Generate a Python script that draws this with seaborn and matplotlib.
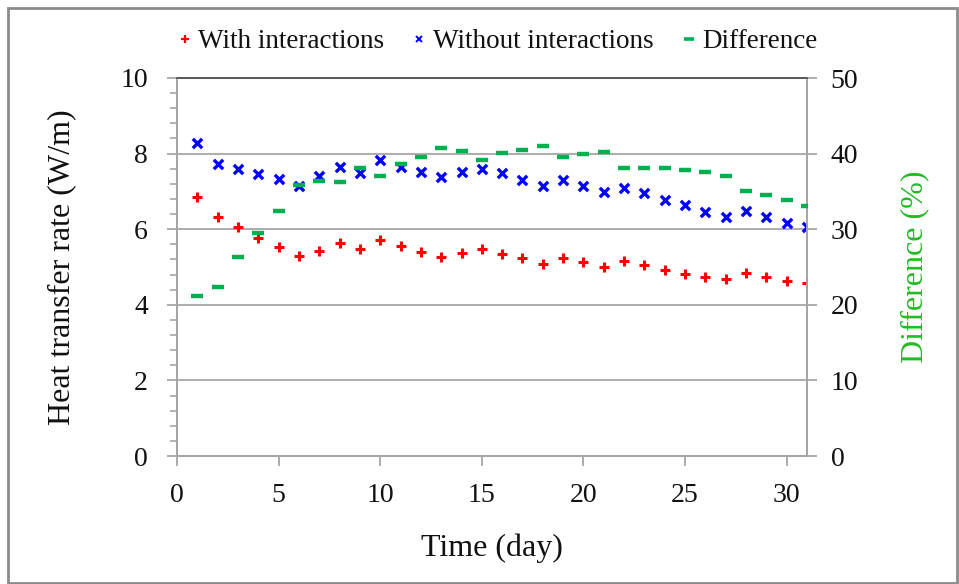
import numpy as np
import pandas as pd
import matplotlib
matplotlib.use("Agg")
import matplotlib.pyplot as plt
from matplotlib.lines import Line2D
from matplotlib.patches import Rectangle
import seaborn as sns

# ---- data ----
days = list(range(1, 32))
with_interactions = [6.84, 6.32, 6.05, 5.76, 5.54, 5.29, 5.43, 5.63, 5.47, 5.71,
                     5.56, 5.40, 5.26, 5.36, 5.48, 5.34, 5.23, 5.09, 5.23, 5.12,
                     4.99, 5.16, 5.05, 4.91, 4.82, 4.74, 4.67, 4.83, 4.74, 4.64, 4.57]
without_interactions = [8.27, 7.72, 7.59, 7.47, 7.32, 7.15, 7.41, 7.65, 7.48, 7.82,
                        7.65, 7.52, 7.39, 7.50, 7.59, 7.48, 7.29, 7.15, 7.29, 7.15,
                        6.98, 7.09, 6.95, 6.77, 6.63, 6.46, 6.32, 6.47, 6.32, 6.16, 6.05]
difference = [21.2, 22.4, 26.3, 29.5, 32.4, 35.8, 36.4, 36.2, 38.1, 37.1,
              38.6, 39.6, 40.8, 40.3, 39.2, 40.1, 40.5, 41.0, 39.6, 39.9,
              40.2, 38.1, 38.1, 38.1, 37.8, 37.6, 37.1, 35.1, 34.5, 33.8, 33.1]
x_ticks = [0, 5, 10, 15, 20, 25, 30]
left_ticks = [0, 2, 4, 6, 8, 10]
right_ticks = [0, 10, 20, 30, 40, 50]
labels = ["With interactions", "Without interactions", "Difference"]

df = pd.DataFrame({"day": days, "with": with_interactions,
                   "without": without_interactions, "diff": difference})

sns.set_style("white")
plt.rcParams["font.family"] = ["Liberation Serif", "DejaVu Serif"]

RED, BLUE, GREEN = "#FF0000", "#0000FF", "#00B050"
GRID = "#A6A6A6"
TXT = "#111111"

fig = plt.figure(figsize=(9.59, 5.84), dpi=100)
ax = fig.add_axes([177 / 959, 1 - 456 / 584, (807 - 177) / 959, (456 - 78) / 584])
ax2 = ax.twinx()

sns.scatterplot(data=df, x="day", y="with", ax=ax, marker="+", color=RED,
                s=60, linewidth=2.2, zorder=5, legend=False)
sns.scatterplot(data=df, x="day", y="without", ax=ax, marker="x", color=BLUE,
                s=45, linewidth=2.4, zorder=5, legend=False)
sns.scatterplot(data=df, x="day", y="diff", ax=ax2, marker="_", color=GREEN,
                s=75, linewidth=3.2, zorder=5, legend=False)

ax.set_xlim(0, 31)
ax.set_ylim(0, 10)
ax2.set_ylim(0, 50)
ax.set_xticks(x_ticks)
ax.set_yticks(left_ticks)
ax.set_yticks(np.arange(0, 10.01, 0.4), minor=True)
ax2.set_yticks(right_ticks)

ax.yaxis.grid(True, which="major", color=GRID, linewidth=1.3)
ax.xaxis.grid(False)
ax.set_axisbelow(True)

for a in (ax, ax2):
    for side in ("left", "right", "bottom"):
        a.spines[side].set_color(GRID)
        a.spines[side].set_linewidth(1.3)
    a.spines["top"].set_color("#595959")
    a.spines["top"].set_linewidth(1.3)

ax.tick_params(axis="x", which="major", direction="out", length=7.5, width=1.3,
               color=GRID, labelsize=20, labelcolor=TXT, pad=12, bottom=True)
ax.tick_params(axis="y", which="major", direction="out", length=7, width=1.3,
               color=GRID, labelsize=20, labelcolor=TXT, pad=14, left=True)
ax.tick_params(axis="y", which="minor", direction="out", length=5, width=1.2,
               color=GRID, left=True)
ax2.tick_params(axis="y", which="major", direction="out", length=7, width=1.3,
                color=GRID, labelsize=20, labelcolor=TXT, pad=10, right=True)

ax.set_xlabel("Time (day)", fontsize=23, color=TXT, labelpad=18)
ax.set_ylabel("Heat transfer rate (W/m)", fontsize=23, color=TXT, labelpad=32)
ax2.set_ylabel("Difference (%)", fontsize=23, color="#22BB22", labelpad=30)

handles = [
    Line2D([], [], linestyle="none", marker="+", color=RED, markersize=6, mew=1.6),
    Line2D([], [], linestyle="none", marker="x", color=BLUE, markersize=5, mew=1.4),
    Line2D([], [], linestyle="none", marker="_", color=GREEN, markersize=7, mew=2.6),
]
fig.legend(handles, labels, loc="center", bbox_to_anchor=(0.519, 1 - 42 / 584),
           ncol=3, frameon=False, fontsize=19.5, handlelength=0.5, handletextpad=0.25,
           columnspacing=1.05, labelcolor=TXT)

fig.patches.append(Rectangle((8 / 959, 1 / 584), 949 / 959, 575 / 584,
                             transform=fig.transFigure, fill=False,
                             edgecolor="#8c8c8c", linewidth=2.0))

fig.savefig("out.png", dpi=100)
